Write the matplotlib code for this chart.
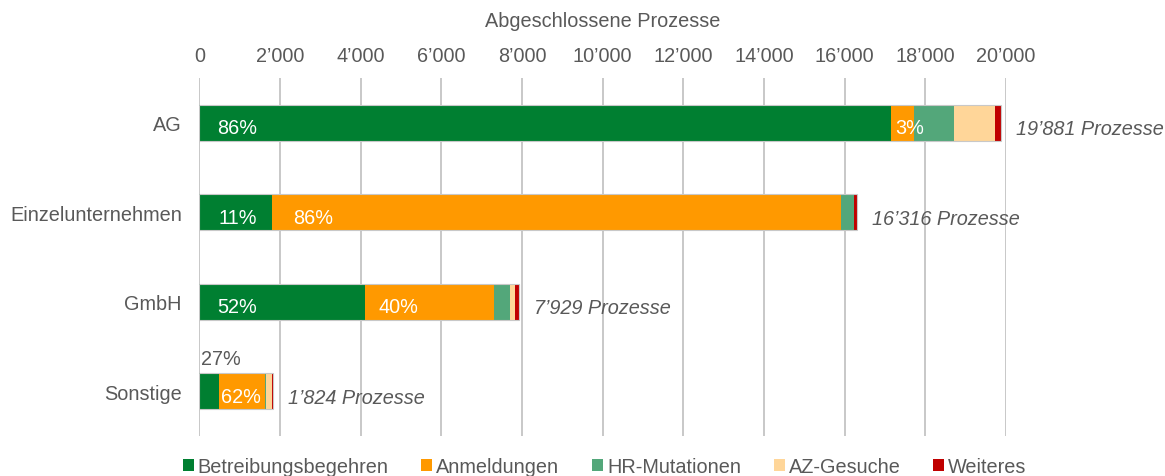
import matplotlib
matplotlib.use("Agg")
import matplotlib.pyplot as plt
from matplotlib.patches import Patch
from matplotlib.ticker import FuncFormatter, MultipleLocator
import numpy as np

plt.rcParams['font.family'] = ['Liberation Sans', 'DejaVu Sans']

categories = ["AG", "Einzelunternehmen", "GmbH", "Sonstige"]
series_names = ["Betreibungsbegehren", "Anmeldungen", "HR-Mutationen", "AZ-Gesuche", "Weiteres"]
betreibungsbegehren = [17150, 1800, 4110, 492]
anmeldungen = [560, 14110, 3193, 1135]
hr_mutationen = [990, 323, 405, 20]
az_gesuche = [1040, 10, 116, 163]
weiteres = [141, 73, 105, 14]
totals = [19881, 16316, 7929, 1824]
colors = ["#007F31", "#FF9900", "#53A77A", "#FFD699", "#C00000"]

# segment labels: (category index, series index, x-offset in px from segment start)
seg_labels = [(0, 0, 18), (0, 1, 4), (1, 0, 19), (1, 1, 21), (2, 0, 18), (2, 1, 13), (3, 1, 2)]

series = [betreibungsbegehren, anmeldungen, hr_mutationen, az_gesuche, weiteres]
text_col = "#595959"
fs = 14.3

fig = plt.figure(figsize=(11.65, 4.77), dpi=100)
ax = fig.add_axes([0.1711, 0.0839, 0.6924, 0.7505])

y = np.arange(len(categories))
left = np.zeros(len(categories))
lefts = []
for vals, name, c in zip(series, series_names, colors):
    ax.barh(y, vals, left=left, height=0.4, color=c, label=name, zorder=3, linewidth=0)
    lefts.append(left.copy())
    left = left + np.array(vals)
# thin outline around each full bar
ax.barh(y, left, height=0.4, fill=False, edgecolor="#C8C8C8", linewidth=0.8, zorder=4)

px = 72.0 / fig.dpi
for ci, si, off in seg_labels:
    pct = series[si][ci] / totals[ci] * 100
    ax.annotate(f"{pct:.0f}%", (lefts[si][ci], y[ci]), xytext=(off * px, -5 * px),
                textcoords="offset points", ha="left", va="center",
                color="white", fontsize=fs, zorder=5)
# Sonstige Betreibungsbegehren label above the bar
pct = betreibungsbegehren[3] / totals[3] * 100
ax.annotate(f"{pct:.0f}%", (0, y[3]), xytext=(2 * px, 33 * px), textcoords="offset points",
            ha="left", va="center", color=text_col, fontsize=fs, zorder=5)

for yi, t, tot in zip(y, left, totals):
    ax.annotate(f"{tot:,} Prozesse".replace(",", "’"), (t, yi), xytext=(15 * px, -6 * px),
                textcoords="offset points", ha="left", va="center",
                color=text_col, fontsize=fs, style="italic", annotation_clip=False)

ax.set_xlim(0, 20000)
ax.set_ylim(3.5, -0.5)
ax.xaxis.set_major_locator(MultipleLocator(2000))
ax.xaxis.set_major_formatter(FuncFormatter(lambda v, p: f"{int(v):,}".replace(",", "’")))
ax.xaxis.tick_top()
ax.xaxis.set_label_position("top")
ax.set_xlabel("Abgeschlossene Prozesse", color=text_col, fontsize=fs, labelpad=14)
ax.tick_params(axis="x", length=0, colors=text_col, labelsize=fs, pad=9.5)
ax.tick_params(axis="y", length=0, colors=text_col, labelsize=fs, pad=12.5)
ax.set_yticks(y)
ax.set_yticklabels(categories)
ax.grid(axis="x", color="#BFBFBF", linewidth=1.2, zorder=0)
for s in ax.spines.values():
    s.set_visible(False)

handles = [Patch(facecolor=c, edgecolor="none", label=n) for c, n in zip(colors, series_names)]
fig.legend(handles=handles, loc="center", bbox_to_anchor=(0.519, 0.02), ncol=5, frameon=False,
           fontsize=fs, labelcolor=text_col, handlelength=0.55, handleheight=0.55,
           handletextpad=0.2, columnspacing=1.65, borderaxespad=0)

fig.savefig("out.png", dpi=100)
